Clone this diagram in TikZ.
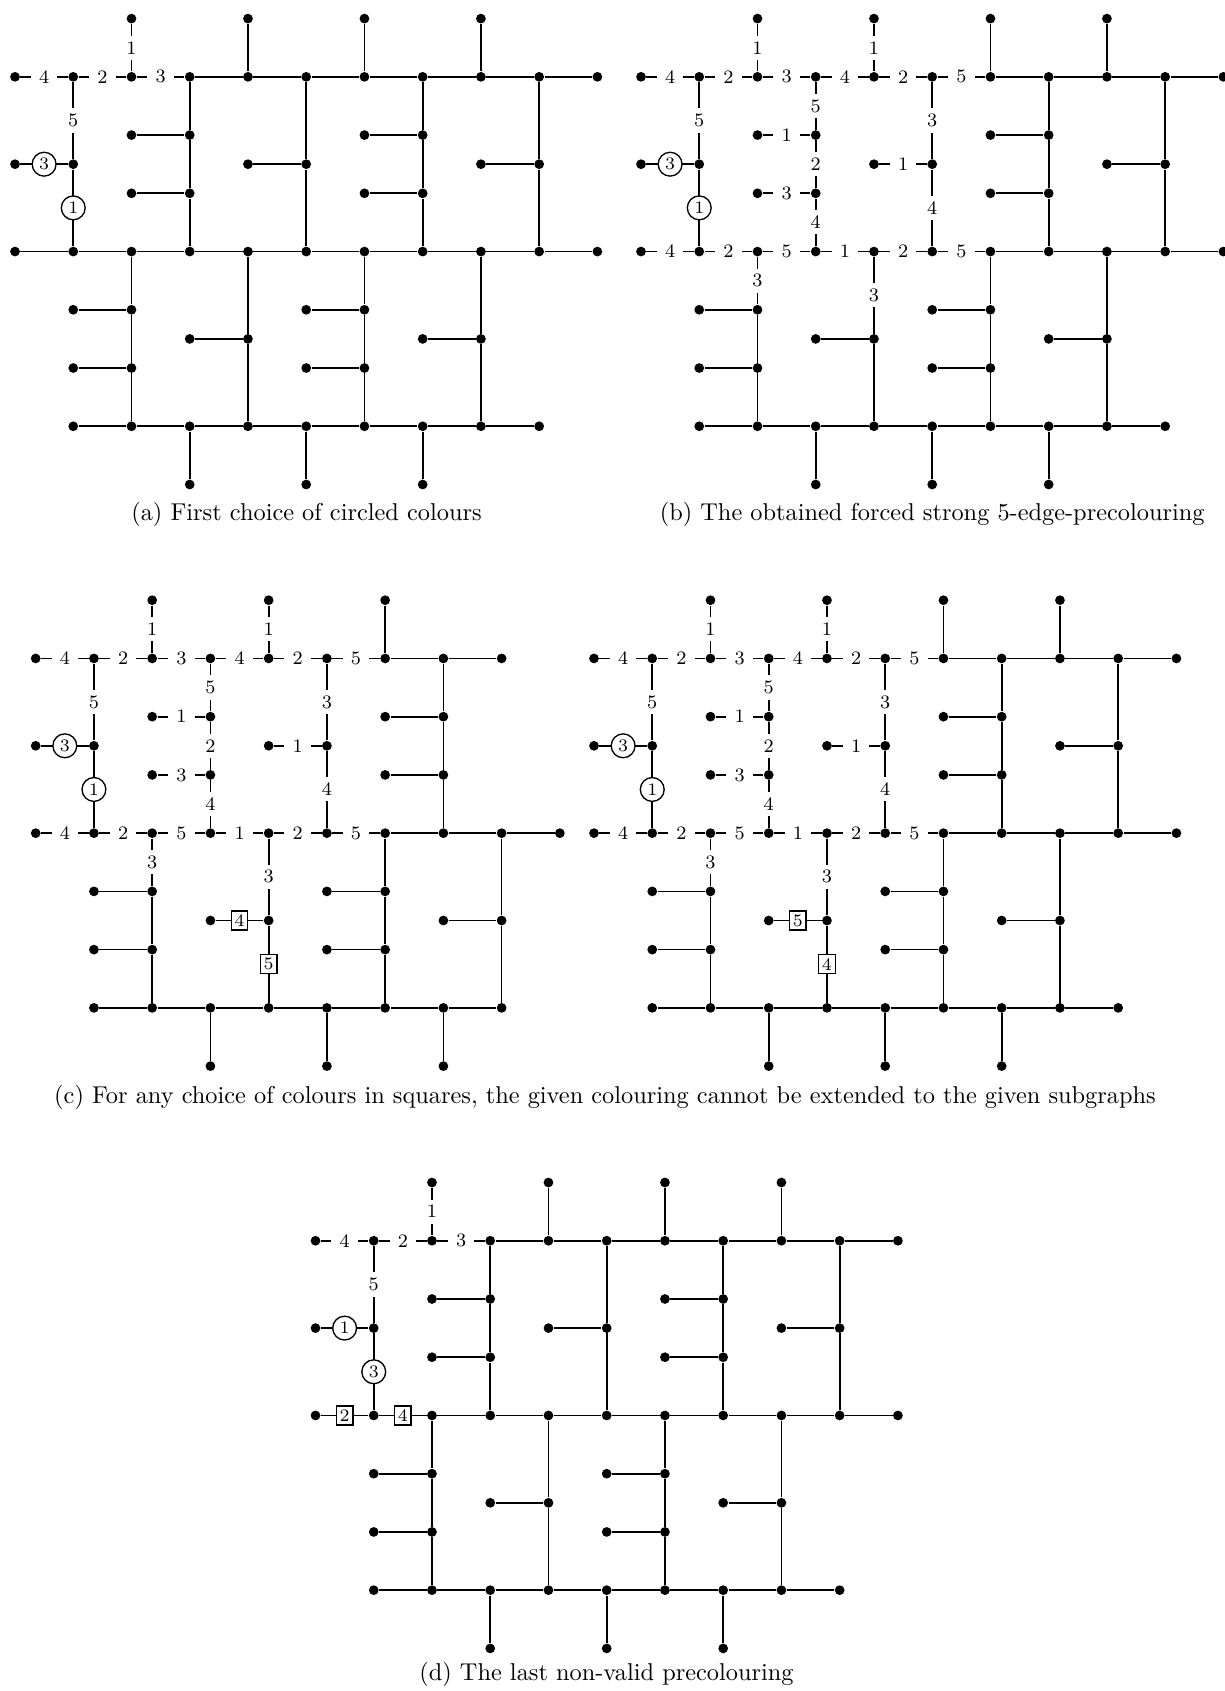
\documentclass[tikz,border=0pt]{standalone}
\usetikzlibrary{calc}
\tikzset{
  vtx/.style={circle, fill=black, inner sep=0pt, minimum size=4.0pt},
  ln/.style={line width=0.7pt},
  lab/.style={fill=white, inner xsep=3.4pt, inner ysep=2.3pt, font=\fontsize{7.8}{8.5}\selectfont},
  circ/.style={circle, draw, line width=0.55pt, fill=white, inner sep=0pt, minimum size=9.8pt, font=\fontsize{7.2}{7.5}\selectfont},
  sq/.style={rectangle, draw, line width=0.55pt, fill=white, inner sep=0pt, minimum width=6.8pt, minimum height=7.8pt, font=\fontsize{7.2}{7.5}\selectfont},
  captext/.style={anchor=base, inner sep=0pt, font=\fontsize{10}{12}\selectfont},
  panel/.style={x=23.925pt, y=-11.962pt}
}
% #1 prefix, #2 last top-row column, #3 top pendant columns,
% #4 upper one-pendant columns (besides column 1), #5 last middle-row column, #6 last bottom-row column
\newcommand\drawG[6]{%
  \foreach \c in {0,...,#2} {\node[vtx] (#1-\c-2) at (\c,2) {};}
  \foreach \c in {#3} {\node[vtx] (#1-\c-0) at (\c,0) {};}
  \node[vtx] (#1-0-5) at (0,5) {};
  \node[vtx] (#1-1-5) at (1,5) {};
  \foreach \c in {3,7} {\pgfmathtruncatemacro\d{\c-1}
    \node[vtx] (#1-\c-4) at (\c,4) {}; \node[vtx] (#1-\c-6) at (\c,6) {};
    \node[vtx] (#1-\d-4) at (\d,4) {}; \node[vtx] (#1-\d-6) at (\d,6) {};}
  \foreach \c in {#4} {\pgfmathtruncatemacro\d{\c-1}
    \node[vtx] (#1-\c-5) at (\c,5) {}; \node[vtx] (#1-\d-5) at (\d,5) {};}
  \foreach \c in {0,...,#5} {\node[vtx] (#1-\c-8) at (\c,8) {};}
  \foreach \c in {2,6} {\pgfmathtruncatemacro\d{\c-1}
    \node[vtx] (#1-\c-10) at (\c,10) {}; \node[vtx] (#1-\c-12) at (\c,12) {};
    \node[vtx] (#1-\d-10) at (\d,10) {}; \node[vtx] (#1-\d-12) at (\d,12) {};}
  \foreach \c in {4,8} {\pgfmathtruncatemacro\d{\c-1}
    \node[vtx] (#1-\c-11) at (\c,11) {}; \node[vtx] (#1-\d-11) at (\d,11) {};}
  \foreach \c in {1,...,#6} {\node[vtx] (#1-\c-14) at (\c,14) {};}
  \foreach \c in {3,5,7} {\node[vtx] (#1-\c-16) at (\c,16) {};}
  % connectors
  \foreach \c in {1,...,#2} {\pgfmathtruncatemacro\d{\c-1}\draw[ln] (#1-\d-2) -- (#1-\c-2);}
  \foreach \c in {#3} {\draw[ln] (#1-\c-0) -- (#1-\c-2);}
  \draw[ln] (#1-1-2) -- (#1-1-5) -- (#1-1-8);
  \draw[ln] (#1-0-5) -- (#1-1-5);
  \foreach \c in {3,7} {\pgfmathtruncatemacro\d{\c-1}
    \draw[ln] (#1-\c-2) -- (#1-\c-4) -- (#1-\c-6) -- (#1-\c-8);
    \draw[ln] (#1-\d-4) -- (#1-\c-4);
    \draw[ln] (#1-\d-6) -- (#1-\c-6);}
  \foreach \c in {#4} {\pgfmathtruncatemacro\d{\c-1}
    \draw[ln] (#1-\c-2) -- (#1-\c-5) -- (#1-\c-8);
    \draw[ln] (#1-\d-5) -- (#1-\c-5);}
  \foreach \c in {1,...,#5} {\pgfmathtruncatemacro\d{\c-1}\draw[ln] (#1-\d-8) -- (#1-\c-8);}
  \foreach \c in {2,6} {\pgfmathtruncatemacro\d{\c-1}
    \draw[ln] (#1-\c-8) -- (#1-\c-10) -- (#1-\c-12) -- (#1-\c-14);
    \draw[ln] (#1-\d-10) -- (#1-\c-10);
    \draw[ln] (#1-\d-12) -- (#1-\c-12);}
  \foreach \c in {4,8} {\pgfmathtruncatemacro\d{\c-1}
    \draw[ln] (#1-\c-8) -- (#1-\c-11) -- (#1-\c-14);
    \draw[ln] (#1-\d-11) -- (#1-\c-11);}
  \foreach \c in {2,...,#6} {\pgfmathtruncatemacro\d{\c-1}\draw[ln] (#1-\d-14) -- (#1-\c-14);}
  \foreach \c in {3,5,7} {\draw[ln] (#1-\c-14) -- (#1-\c-16);}
}
% labels shared by panel (b) and both parts of panel (c)
\newcommand\labB[1]{%
  \path (#1-0-2) -- node[lab]{4} (#1-1-2);
  \path (#1-1-2) -- node[lab]{2} (#1-2-2);
  \path (#1-2-2) -- node[lab]{3} (#1-3-2);
  \path (#1-3-2) -- node[lab]{4} (#1-4-2);
  \path (#1-4-2) -- node[lab]{2} (#1-5-2);
  \path (#1-5-2) -- node[lab]{5} (#1-6-2);
  \path (#1-2-0) -- node[lab]{1} (#1-2-2);
  \path (#1-4-0) -- node[lab]{1} (#1-4-2);
  \path (#1-1-2) -- node[lab]{5} (#1-1-5);
  \path (#1-1-5) -- node[circ]{1} (#1-1-8);
  \path (#1-0-5) -- node[circ]{3} (#1-1-5);
  \path (#1-3-2) -- node[lab]{5} (#1-3-4);
  \path (#1-3-4) -- node[lab]{2} (#1-3-6);
  \path (#1-3-6) -- node[lab]{4} (#1-3-8);
  \path (#1-2-4) -- node[lab]{1} (#1-3-4);
  \path (#1-2-6) -- node[lab]{3} (#1-3-6);
  \path (#1-5-2) -- node[lab]{3} (#1-5-5);
  \path (#1-5-5) -- node[lab]{4} (#1-5-8);
  \path (#1-4-5) -- node[lab]{1} (#1-5-5);
  \path (#1-0-8) -- node[lab]{4} (#1-1-8);
  \path (#1-1-8) -- node[lab]{2} (#1-2-8);
  \path (#1-2-8) -- node[lab]{5} (#1-3-8);
  \path (#1-3-8) -- node[lab]{1} (#1-4-8);
  \path (#1-4-8) -- node[lab]{2} (#1-5-8);
  \path (#1-5-8) -- node[lab]{5} (#1-6-8);
  \path (#1-2-8) -- node[lab]{3} (#1-2-10);
  \path (#1-4-8) -- node[lab]{3} (#1-4-11);
}
\begin{document}
\begin{tikzpicture}[x=0.4108pt, y=-0.4108pt]
\useasboundingbox (0,0) rectangle (1224,1691);
% (a)
\begin{scope}[shift={(15.0,18.6)}, panel]
  \drawG{a}{10}{2,4,6,8}{5,9}{10}{9}
  \path (a-0-2) -- node[lab]{4} (a-1-2);
  \path (a-1-2) -- node[lab]{2} (a-2-2);
  \path (a-2-2) -- node[lab]{3} (a-3-2);
  \path (a-2-0) -- node[lab]{1} (a-2-2);
  \path (a-1-2) -- node[lab]{5} (a-1-5);
  \path (a-1-5) -- node[circ]{1} (a-1-8);
  \path (a-0-5) -- node[circ]{3} (a-1-5);
\end{scope}
\node[captext] (capa) at (306.5,520.3) {(a) First choice of circled colours};
% (b)
\begin{scope}[shift={(641.0,18.6)}, panel]
  \drawG{b}{10}{2,4,6,8}{5,9}{10}{9}
  \labB{b}
\end{scope}
\node[captext] (capb) at (932.2,520.3) {(b) The obtained forced strong 5-edge-precolouring};
% (c) left
\begin{scope}[shift={(35.7,600.2)}, panel]
  \drawG{cl}{8}{2,4,6}{5}{9}{8}
  \labB{cl}
  \path (cl-3-11) -- node[sq]{4} (cl-4-11);
  \path (cl-4-11) -- node[sq]{5} (cl-4-14);
\end{scope}
% (c) right
\begin{scope}[shift={(594.0,600.2)}, panel]
  \drawG{cr}{10}{2,4,6,8}{5,9}{10}{9}
  \labB{cr}
  \path (cr-3-11) -- node[sq]{5} (cr-4-11);
  \path (cr-4-11) -- node[sq]{4} (cr-4-14);
\end{scope}
\node[captext] (capc) at (605.0,1103.0) {(c) For any choice of colours in squares, the given colouring cannot be extended to the given subgraphs};
% (d)
\begin{scope}[shift={(315.5,1182.5)}, panel]
  \drawG{d}{10}{2,4,6,8}{5,9}{10}{9}
  \path (d-0-2) -- node[lab]{4} (d-1-2);
  \path (d-1-2) -- node[lab]{2} (d-2-2);
  \path (d-2-2) -- node[lab]{3} (d-3-2);
  \path (d-2-0) -- node[lab]{1} (d-2-2);
  \path (d-1-2) -- node[lab]{5} (d-1-5);
  \path (d-0-5) -- node[circ]{1} (d-1-5);
  \path (d-1-5) -- node[circ]{3} (d-1-8);
  \path (d-0-8) -- node[sq]{2} (d-1-8);
  \path (d-1-8) -- node[sq]{4} (d-2-8);
\end{scope}
\node[captext] (capd) at (606.5,1680.0) {(d) The last non-valid precolouring};
\end{tikzpicture}
\end{document}
